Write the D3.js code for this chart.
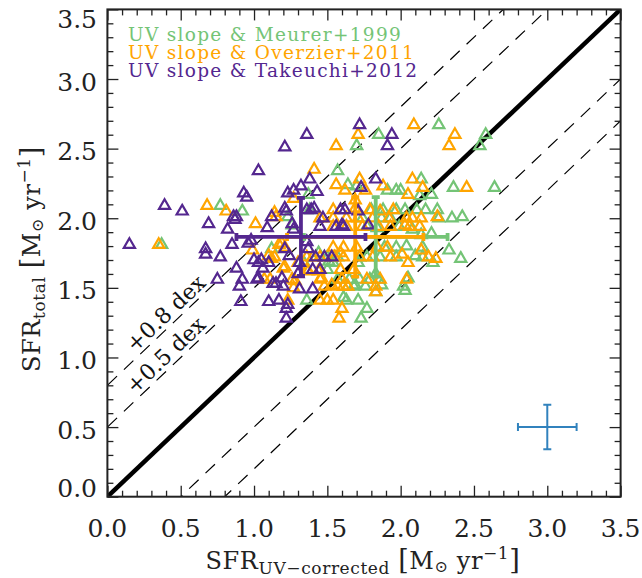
<!DOCTYPE html>
<html>
<head>
<meta charset="utf-8">
<script src="https://cdn.jsdelivr.net/npm/d3@7"></script>
<style>
  body { margin: 0; background: #fff; }
  svg { display: block; }
</style>
</head>
<body>
<svg id="chart" width="642" height="578"></svg>
<script>
// --- data -----------------------------------------------------------------
const majorTicks = [0, 0.5, 1.0, 1.5, 2.0, 2.5, 3.0, 3.5];
const dexOffsets = [0.8, 0.5, -0.5, -0.8];
const dexLabels = ["+0.8 dex", "+0.5 dex"];
const legendLabels = ["UV slope & Meurer+1999", "UV slope & Overzier+2011", "UV slope & Takeuchi+2012"];

// UV slope & Meurer+1999 [SFR_UV-corrected, SFR_total]
const meurer = [
  [0.37,1.81],[0.77,2.09],[0.92,2.05],[1.12,1.78],[1.23,2.01],[1.37,2.17],[1.38,2.06],[1.36,1.41],
  [1.57,2.34],[1.70,2.52],[1.85,2.60],[2.26,2.67],[2.58,2.60],[2.54,2.52],[1.64,2.24],[1.70,2.23],
  [1.91,2.20],[1.97,2.20],[2.14,2.28],[2.21,2.17],[2.36,2.22],[2.64,2.22],[2.13,2.16],[2.00,2.20],
  [2.03,2.06],[2.11,2.06],[2.17,2.06],[2.25,2.06],[2.35,2.00],[2.42,2.01],[2.21,1.89],[2.33,1.77],
  [2.41,1.71],[2.22,1.68],[2.10,1.73],[2.04,1.80],[2.05,1.57],[2.03,1.48],[1.88,2.06],[1.97,2.06],
  [1.74,2.00],[1.93,2.00],[2.26,2.00],[1.77,1.94],[1.99,1.94],[1.89,1.79],[1.97,1.79],[2.15,1.79],
  [1.50,1.72],[1.57,1.72],[1.72,1.72],[1.77,1.72],[1.86,1.72],[1.97,1.72],[2.15,1.72],[1.34,1.68],
  [1.54,1.68],[1.71,1.68],[1.50,1.63],[1.57,1.56],[1.65,1.56],[1.72,1.56],[1.79,1.56],[1.85,1.56],
  [1.68,1.51],[1.76,1.51],[2.02,1.51],[1.83,1.47],[1.63,1.41],[1.71,1.41],[1.61,1.43],[1.77,1.35],
  [1.73,1.28],[1.44,1.75],[1.51,1.69],[1.64,1.51],[1.69,1.52],[1.87,1.52],[1.83,1.60],[1.26,1.95],
  [1.84,1.93],[2.08,1.92],[2.14,1.88],[1.80,2.06],[1.87,2.00]
];

// UV slope & Overzier+2011
const overzier = [
  [0.35,1.81],[0.68,2.09],[0.81,2.05],[1.01,1.96],[1.15,2.01],[1.14,2.04],[0.99,1.77],[1.10,1.73],
  [1.14,1.72],[1.19,1.82],[1.21,1.79],[1.21,1.65],[1.07,1.56],[1.26,1.56],[1.28,1.55],[1.27,1.50],
  [1.23,1.41],[1.27,2.14],[1.41,2.35],[1.56,2.52],[1.71,2.60],[2.09,2.67],[2.37,2.60],[2.33,2.52],
  [1.56,2.24],[1.62,2.20],[1.72,2.28],[1.76,2.20],[1.88,2.23],[1.69,2.13],[2.08,2.28],[2.15,2.22],
  [2.05,2.17],[2.45,2.22],[2.04,2.00],[2.08,2.00],[2.14,2.00],[2.25,2.01],[2.14,1.77],[2.24,1.71],
  [2.05,1.68],[2.01,1.74],[2.03,1.95],[1.54,2.06],[1.69,2.07],[1.79,2.06],[1.86,2.05],[1.95,2.06],
  [1.45,2.00],[1.54,2.00],[1.63,2.00],[1.71,2.00],[1.81,2.00],[1.92,2.00],[1.54,1.94],[1.63,1.94],
  [1.74,1.94],[1.85,1.94],[1.93,1.94],[2.06,1.94],[2.13,1.94],[1.54,1.79],[1.61,1.79],[1.70,1.79],
  [1.84,1.79],[1.91,1.79],[1.36,1.72],[1.40,1.72],[1.45,1.72],[1.55,1.72],[1.61,1.72],[1.72,1.72],
  [1.81,1.72],[1.93,1.72],[2.19,1.72],[1.36,1.63],[1.45,1.63],[1.59,1.63],[1.68,1.63],[1.45,1.56],
  [1.60,1.56],[1.77,1.56],[1.86,1.56],[2.04,1.56],[1.57,1.51],[1.61,1.51],[1.64,1.51],[1.83,1.51],
  [1.83,1.47],[1.45,1.41],[1.50,1.41],[1.54,1.41],[1.60,1.35],[1.58,1.28],[1.17,1.81],[1.12,1.71],
  [1.20,1.64],[1.11,1.56],[1.48,1.51],[1.53,1.52],[1.37,1.62],[1.44,1.62],[1.46,1.57],[1.30,1.68],
  [1.59,1.75]
];

// UV slope & Takeuchi+2012
const takeuchi = [
  [0.15,1.81],[0.39,2.09],[0.51,2.05],[0.69,1.96],[0.67,1.78],[0.67,1.74],[0.77,1.72],[0.75,1.56],
  [0.82,1.92],[0.86,2.01],[0.88,2.01],[0.85,1.81],[0.88,1.64],[0.92,1.56],[0.90,1.51],[0.91,1.40],
  [0.93,2.18],[0.95,2.15],[1.03,2.34],[1.21,2.51],[1.36,2.60],[1.72,2.67],[1.94,2.60],[1.91,2.52],
  [1.38,2.28],[1.32,2.23],[1.43,2.19],[1.27,2.20],[1.23,2.18],[1.73,2.22],[1.83,2.28],[1.09,1.93],
  [1.00,1.70],[1.03,1.68],[1.05,1.70],[1.06,1.64],[1.02,1.56],[1.10,1.40],[1.17,1.41],[1.23,1.38],
  [1.22,1.35],[1.22,1.28],[1.13,1.53],[1.15,1.53],[1.20,1.51],[1.21,2.07],[1.22,2.05],[1.39,2.06],
  [1.36,2.06],[1.26,1.96],[1.27,1.92],[1.12,2.01],[1.36,1.83],[1.37,1.78],[1.31,1.68],[1.30,1.60],
  [1.24,1.73],[1.10,1.68],[1.21,1.78],[1.19,1.57],[1.48,1.72],[1.60,1.95],[1.78,1.95],[1.59,2.06],
  [1.62,2.06],[1.71,2.05],[1.45,1.94],[1.56,1.94],[1.61,1.94],[1.42,1.72],[1.53,1.72],[1.40,1.63],
  [1.45,1.63],[1.31,1.49],[1.40,1.49],[1.41,2.07],[1.47,2.00],[0.96,1.82],[0.98,1.84],[0.87,1.99],
  [1.03,1.57]
];

// mean +/- scatter of each series (Meurer, Overzier, Takeuchi)
const meanX = [1.83, 1.69, 1.32];
const meanY = [1.866, 1.866, 1.866];
const meanXErr = [0.49, 0.465, 0.44];
const meanYErr = [0.285, 0.285, 0.28];

// typical error bar
const typX = 3.0, typY = 0.5, typXErr = 0.2, typYErr = 0.16;

const seriesColors = ["#74c476", "#ffa500", "#54278f"];
const typColor = "#3182bd";

// --- layout ---------------------------------------------------------------
const svg = d3.select("#chart");
const plotLeft = 107.4, plotRight = 620.6, plotTop = 9.4, plotBottom = 496.7;
const serif = "'DejaVu Serif', serif";

const x = d3.scaleLinear().domain([0, 3.5]).range([plotLeft, plotRight]);
const y = d3.scaleLinear().domain([0, 3.5]).range([plotBottom, plotTop]);

svg.append("rect").attr("width", 642).attr("height", 578).attr("fill", "#fff");

svg.append("defs").append("clipPath").attr("id", "plot-clip")
  .append("rect")
  .attr("x", plotLeft).attr("y", plotTop)
  .attr("width", plotRight - plotLeft).attr("height", plotBottom - plotTop);

const plot = svg.append("g").attr("clip-path", "url(#plot-clip)");

// diagonal offset lines
plot.selectAll(".dex-line")
  .data(dexOffsets)
  .enter().append("line")
  .attr("class", "dex-line")
  .attr("x1", d => x(-1)).attr("y1", d => y(-1 + d))
  .attr("x2", d => x(4.5)).attr("y2", d => y(4.5 + d))
  .attr("stroke", "#000")
  .attr("stroke-width", 1.2)
  .attr("stroke-dasharray", "13,9.5");

// one-to-one line
plot.append("line")
  .attr("x1", x(0)).attr("y1", y(0))
  .attr("x2", x(3.5)).attr("y2", y(3.5))
  .attr("stroke", "#000")
  .attr("stroke-width", 4.5);

// dex labels, parallel to the lines
const angle = -Math.atan2(y(0) - y(1), x(1) - x(0)) * 180 / Math.PI;
svg.selectAll(".dex-label")
  .data(dexLabels)
  .enter().append("text")
  .attr("class", "dex-label")
  .attr("transform", (d, i) => {
    const xe = 0.68, ye = xe + dexOffsets[i] + 0.045;
    return `translate(${x(xe)},${y(ye)}) rotate(${angle})`;
  })
  .attr("text-anchor", "end")
  .style("font-family", serif)
  .style("font-size", "22px")
  .style("fill", "#111")
  .text(d => d);

// scatter points
const tri = d3.symbol().type(d3.symbolTriangle).size(54);
[meurer, overzier, takeuchi].forEach((pts, i) => {
  plot.append("g")
    .selectAll("path")
    .data(pts)
    .enter().append("path")
    .attr("transform", d => `translate(${x(d[0])},${y(d[1])})`)
    .attr("d", tri)
    .attr("fill", "none")
    .attr("stroke", seriesColors[i])
    .attr("stroke-width", 2.2);
});

// error bar helper
function errorCross(g, cx, cy, ex, ey, color, width, cap) {
  const x0 = x(cx - ex), x1 = x(cx + ex), y0 = y(cy - ey), y1 = y(cy + ey);
  const px = x(cx), py = y(cy);
  const segs = [
    [x0, py, x1, py], [px, y0, px, y1],
    [x0, py - cap, x0, py + cap], [x1, py - cap, x1, py + cap],
    [px - cap, y0, px + cap, y0], [px - cap, y1, px + cap, y1]
  ];
  g.selectAll(null)
    .data(segs)
    .enter().append("line")
    .attr("x1", d => d[0]).attr("y1", d => d[1])
    .attr("x2", d => d[2]).attr("y2", d => d[3])
    .attr("stroke", color)
    .attr("stroke-width", width);
}

meanX.forEach((mx, i) => {
  errorCross(plot.append("g"), mx, meanY[i], meanXErr[i], meanYErr[i], seriesColors[i], 3.8, 4);
});

errorCross(plot.append("g"), typX, typY, typXErr, typYErr, typColor, 2, 4);

// --- axes -----------------------------------------------------------------
const minorTicks = d3.range(0, 36).map(d => d / 10).filter(d => !majorTicks.includes(d));
const axisColor = "#222";

function addTicks(axisGen, transform) {
  const gMinor = svg.append("g").attr("transform", transform)
    .call(axisGen.tickValues(minorTicks).tickSize(-6).tickFormat(""));
  const gMajor = svg.append("g").attr("transform", transform)
    .call(axisGen.tickValues(majorTicks).tickSize(-11).tickFormat(""));
  [gMinor, gMajor].forEach(g => {
    g.select(".domain").remove();
    g.selectAll("line").attr("stroke", axisColor).attr("stroke-width", 1.3);
  });
}

addTicks(d3.axisBottom(x), `translate(0,${plotBottom})`);
addTicks(d3.axisTop(x), `translate(0,${plotTop})`);
addTicks(d3.axisLeft(y), `translate(${plotLeft},0)`);
addTicks(d3.axisRight(y), `translate(${plotRight},0)`);

svg.append("rect")
  .attr("x", plotLeft).attr("y", plotTop)
  .attr("width", plotRight - plotLeft).attr("height", plotBottom - plotTop)
  .attr("fill", "none")
  .attr("stroke", axisColor)
  .attr("stroke-width", 2);

// tick labels
svg.selectAll(".xlabel")
  .data(majorTicks)
  .enter().append("text")
  .attr("class", "xlabel")
  .attr("x", d => x(d))
  .attr("y", 537)
  .attr("text-anchor", "middle")
  .style("font-family", serif)
  .style("font-size", "25px")
  .style("fill", axisColor)
  .text(d => d.toFixed(1));

svg.selectAll(".ylabel")
  .data(majorTicks)
  .enter().append("text")
  .attr("class", "ylabel")
  .attr("x", 97)
  .attr("y", d => Math.min(Math.max(y(d) + 11.5, plotTop + 19), plotBottom))
  .attr("text-anchor", "end")
  .style("font-family", serif)
  .style("font-size", "25px")
  .style("fill", axisColor)
  .text(d => d.toFixed(1));

// axis titles
function unitTitle(t, name, sub) {
  t.append("tspan").text(name);
  t.append("tspan").attr("dy", 5).style("font-size", "17px").text(sub);
  t.append("tspan").attr("dy", -5).text(" ");
  t.append("tspan").style("font-size", "27px").text("[");
  t.append("tspan").text("M");
  t.append("tspan").attr("dy", 3).style("font-size", "16px").text("\u2299");
  t.append("tspan").attr("dy", -3).text(" yr");
  t.append("tspan").attr("dy", -10).style("font-size", "17px").text("\u22121");
  t.append("tspan").attr("dy", 10).style("font-size", "27px").text("]");
}

const xTitle = svg.append("text")
  .attr("x", (plotLeft + plotRight) / 2 - 1)
  .attr("y", 569)
  .attr("text-anchor", "middle")
  .style("font-family", serif)
  .style("font-size", "24px")
  .style("letter-spacing", "0.6px")
  .style("fill", axisColor);
unitTitle(xTitle, "SFR", "UV\u2212corrected");

const yTitle = svg.append("text")
  .attr("transform", `translate(40,${(plotTop + plotBottom) / 2 + 6}) rotate(-90)`)
  .attr("text-anchor", "middle")
  .style("font-family", serif)
  .style("font-size", "24px")
  .style("letter-spacing", "0.6px")
  .style("fill", axisColor);
unitTitle(yTitle, "SFR", "total");

// legend
svg.selectAll(".legend")
  .data(legendLabels)
  .enter().append("text")
  .attr("class", "legend")
  .attr("x", 128)
  .attr("y", (d, i) => 40.7 + i * 18)
  .style("font-family", serif)
  .style("font-size", "18.5px")
  .style("letter-spacing", "1.3px")
  .style("fill", (d, i) => seriesColors[i])
  .text(d => d);
</script>
</body>
</html>
